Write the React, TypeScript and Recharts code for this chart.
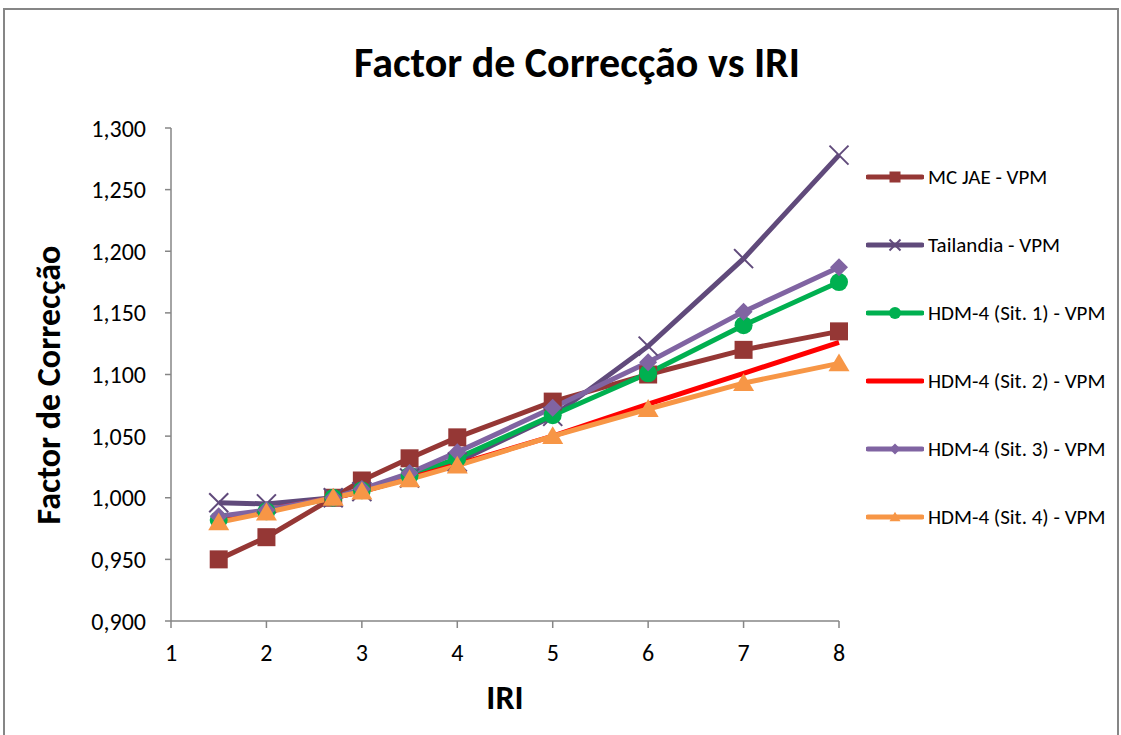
import { LineChart, Line, XAxis, YAxis } from 'recharts';

// IRI values on the x axis
const iri = [1.5, 2, 2.7, 3, 3.5, 4, 5, 6, 7, 8];

// correction factor per series
const mcJae = [0.95, 0.968, 1.0, 1.014, 1.032, 1.049, 1.078, 1.1, 1.12, 1.135];
const tailandia = [0.996, 0.995, 1.0, 1.005, 1.016, 1.029, 1.066, 1.123, 1.194, 1.278];
const sit1 = [0.982, 0.989, 1.0, 1.006, 1.018, 1.032, 1.067, 1.101, 1.14, 1.175];
const sit2 = [0.983, 0.99, 1.0, 1.005, 1.016, 1.027, 1.05, 1.076, 1.101, 1.126];
const sit3 = [0.985, 0.99, 1.0, 1.007, 1.02, 1.037, 1.073, 1.11, 1.151, 1.187];
const sit4 = [0.98, 0.988, 1.0, 1.005, 1.015, 1.026, 1.05, 1.072, 1.093, 1.109];

const xTicks = [1, 2, 3, 4, 5, 6, 7, 8];
const yTicks = [0.9, 0.95, 1.0, 1.05, 1.1, 1.15, 1.2, 1.25, 1.3];

const FONT = "Carlito, 'Liberation Sans Narrow', 'Arial Narrow', sans-serif";
const AXIS = '#868686';

type Shape = 'square' | 'cross' | 'circle' | 'none' | 'diamond' | 'triangle';

const series: { key: string; name: string; color: string; shape: Shape }[] = [
  { key: 'mcJae', name: 'MC JAE - VPM', color: '#953735', shape: 'square' },
  { key: 'tailandia', name: 'Tailandia - VPM', color: '#604A7B', shape: 'cross' },
  { key: 'sit1', name: 'HDM-4 (Sit. 1) - VPM', color: '#00B050', shape: 'circle' },
  { key: 'sit2', name: 'HDM-4 (Sit. 2) - VPM', color: '#FF0000', shape: 'none' },
  { key: 'sit3', name: 'HDM-4 (Sit. 3) - VPM', color: '#8064A2', shape: 'diamond' },
  { key: 'sit4', name: 'HDM-4 (Sit. 4) - VPM', color: '#F79646', shape: 'triangle' },
];

const rows = iri.map((x, i) => ({
  iri: x,
  mcJae: mcJae[i],
  tailandia: tailandia[i],
  sit1: sit1[i],
  sit2: sit2[i],
  sit3: sit3[i],
  sit4: sit4[i],
}));

function Marker({ shape, cx, cy, s, color }: { shape: Shape; cx: number; cy: number; s: number; color: string }) {
  const h = s / 2;
  switch (shape) {
    case 'square':
      return <rect x={cx - h} y={cy - h} width={s} height={s} fill={color} />;
    case 'cross':
      return (
        <g stroke={color} strokeWidth={2}>
          <line x1={cx - h} y1={cy - h} x2={cx + h} y2={cy + h} />
          <line x1={cx - h} y1={cy + h} x2={cx + h} y2={cy - h} />
        </g>
      );
    case 'circle':
      return <circle cx={cx} cy={cy} r={h} fill={color} />;
    case 'diamond':
      return <polygon points={`${cx},${cy - h} ${cx + h},${cy} ${cx},${cy + h} ${cx - h},${cy}`} fill={color} />;
    case 'triangle':
      return (
        <polygon
          points={`${cx},${cy - h * 0.95} ${cx + h},${cy + h * 0.75} ${cx - h},${cy + h * 0.75}`}
          fill={color}
        />
      );
    default:
      return null;
  }
}

const dotSize: Record<Shape, number> = {
  square: 18,
  cross: 19,
  circle: 18,
  none: 0,
  diamond: 18,
  triangle: 21,
};

const fmt = (v: number) => v.toFixed(3).replace('.', ',');

export default function App() {
  return (
    <div
      style={{
        position: 'absolute',
        left: 0,
        top: 0,
        width: 1121,
        height: 735,
        overflow: 'hidden',
        background: '#fff',
        fontFamily: FONT,
      }}
    >
      <div
        style={{
          position: 'absolute',
          left: 3,
          top: 8,
          width: 1112,
          height: 780,
          border: `2px solid ${AXIS}`,
        }}
      />
      <div
        style={{
          position: 'absolute',
          left: 577,
          top: 62,
          transform: 'translate(-50%, -50%)',
          fontSize: 42,
          fontWeight: 'bold',
          whiteSpace: 'nowrap',
        }}
      >
        Factor de Correcção vs IRI
      </div>
      <div
        style={{
          position: 'absolute',
          left: 48,
          top: 385,
          transform: 'translate(-50%, -50%) rotate(-90deg)',
          fontSize: 34,
          fontWeight: 'bold',
          whiteSpace: 'nowrap',
        }}
      >
        Factor de Correcção
      </div>
      <div
        style={{
          position: 'absolute',
          left: 505,
          top: 697,
          transform: 'translate(-50%, -50%)',
          fontSize: 34,
          fontWeight: 'bold',
          whiteSpace: 'nowrap',
        }}
      >
        IRI
      </div>

      <div style={{ position: 'absolute', left: 0, top: 0 }}>
        <LineChart
          width={1121}
          height={735}
          data={rows}
          margin={{ top: 128, right: 282, bottom: 54, left: 71 }}
        >
          <XAxis
            dataKey="iri"
            type="number"
            domain={[1, 8]}
            ticks={xTicks}
            height={60}
            stroke={AXIS}
            strokeWidth={1.5}
            tickSize={7}
            tickMargin={16}
            tick={{ fill: '#000', fontSize: 24, fontFamily: FONT }}
          />
          <YAxis
            type="number"
            domain={[0.9, 1.3]}
            ticks={yTicks}
            width={100}
            stroke={AXIS}
            strokeWidth={1.5}
            tickSize={6}
            tickMargin={19}
            tickFormatter={fmt}
            tick={{ fill: '#000', fontSize: 24, fontFamily: FONT }}
          />
          {series.map((s) => (
            <Line
              key={s.key}
              dataKey={s.key}
              name={s.name}
              type="linear"
              stroke={s.color}
              strokeWidth={5}
              isAnimationActive={false}
              activeDot={false}
              dot={
                s.shape === 'none'
                  ? false
                  : (p: any) => (
                      <Marker
                        key={`${s.key}-${p.index}`}
                        shape={s.shape}
                        cx={p.cx}
                        cy={p.cy}
                        s={dotSize[s.shape]}
                        color={s.color}
                      />
                    )
              }
            />
          ))}
        </LineChart>
      </div>

      {series.map((s, i) => (
        <div
          key={s.key}
          style={{
            position: 'absolute',
            left: 866,
            top: 177 + i * 68 - 14,
            height: 28,
            display: 'flex',
            alignItems: 'center',
            whiteSpace: 'nowrap',
            fontSize: 21,
          }}
        >
          <svg width={58} height={24} style={{ marginRight: 4 }}>
            <line x1={2} y1={12} x2={56} y2={12} stroke={s.color} strokeWidth={5} strokeLinecap="round" />
            <Marker shape={s.shape} cx={29} cy={12} s={s.shape === 'circle' ? 12 : 11} color={s.color} />
          </svg>
          <span>{s.name}</span>
        </div>
      ))}
    </div>
  );
}
